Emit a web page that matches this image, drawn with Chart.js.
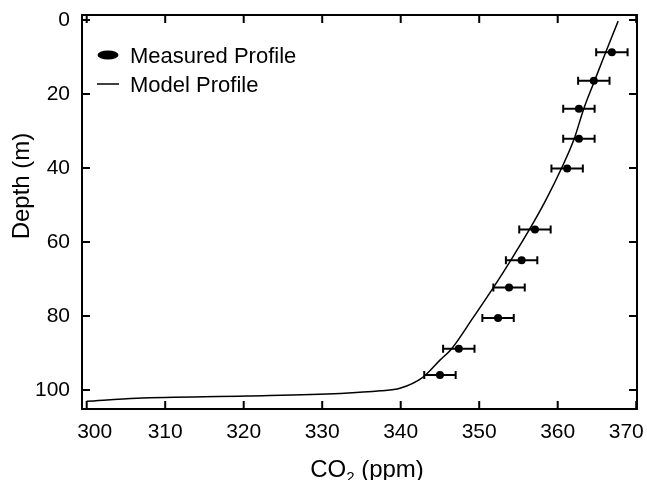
<!DOCTYPE html>
<html>
<head>
<meta charset="utf-8">
<script src="https://cdn.jsdelivr.net/npm/chart.js@4.4.1/dist/chart.umd.min.js"></script>
<style>
  body { margin: 0; background: #fff; }
  #wrap { width: 647px; height: 480px; }
</style>
</head>
<body>
<div id="wrap"><canvas id="myChart" width="647" height="480"></canvas></div>
<script>
// measured profile (CO2 ppm vs depth m)
var measuredCO2 = [366.9, 364.6, 362.7, 362.7, 361.2, 357.1, 355.4, 353.8, 352.4, 347.4, 345.0];
var measuredDepth = [8.7, 16.4, 24.0, 32.1, 40.1, 56.6, 64.9, 72.3, 80.5, 88.8, 95.9];
var measuredErr = [2, 2, 2, 2, 2, 2, 2, 2, 2, 2, 2];

// model profile
var modelCO2 = [367.7, 365.8, 364.7, 363.3, 362.1, 360.5, 358.5, 356.4, 354.0, 351.8, 349.2, 346.5, 345.0, 342.9, 339.9, 337.4, 332.3, 320.4, 306.4, 300.0];
var modelDepth = [0.3, 10.4, 16.4, 24.1, 32.1, 40.0, 48.6, 56.6, 65.0, 72.3, 80.5, 88.8, 91.9, 96.4, 99.5, 100.2, 100.9, 101.6, 102.2, 103.0];

// tick labels
var xTicks = [300, 310, 320, 330, 340, 350, 360, 370];
var yTicks = [0, 20, 40, 60, 80, 100];

var FONT = "'Liberation Sans', Arial, Helvetica, sans-serif";

function toPoints(xs, ys) {
  var pts = [];
  for (var i = 0; i < xs.length; i++) pts.push({ x: xs[i], y: ys[i] });
  return pts;
}

// frame, inward ticks, error bars, legend, axis titles
var decor = {
  id: "decor",
  beforeDatasetsDraw: function (chart) {
    var ctx = chart.ctx;
    var xs = chart.scales.x, ys = chart.scales.y;
    ctx.save();
    ctx.strokeStyle = "#000";
    ctx.lineWidth = 2;
    for (var i = 0; i < measuredCO2.length; i++) {
      var x0 = xs.getPixelForValue(measuredCO2[i] - measuredErr[i]);
      var x1 = xs.getPixelForValue(measuredCO2[i] + measuredErr[i]);
      var y = ys.getPixelForValue(measuredDepth[i]);
      ctx.beginPath();
      ctx.moveTo(x0, y); ctx.lineTo(x1, y);
      ctx.moveTo(x0, y - 4); ctx.lineTo(x0, y + 4);
      ctx.moveTo(x1, y - 4); ctx.lineTo(x1, y + 4);
      ctx.stroke();
    }
    ctx.restore();
  },
  afterDraw: function (chart) {
    var ctx = chart.ctx;
    var a = chart.chartArea;
    var xs = chart.scales.x, ys = chart.scales.y;
    ctx.save();
    ctx.strokeStyle = "#000";
    ctx.lineWidth = 2;
    ctx.strokeRect(a.left, a.top, a.right - a.left, a.bottom - a.top);
    ctx.beginPath();
    xTicks.forEach(function (v) {
      var px = xs.getPixelForValue(v);
      ctx.moveTo(px, a.bottom); ctx.lineTo(px, a.bottom - 8);
      ctx.moveTo(px, a.top); ctx.lineTo(px, a.top + 8);
    });
    yTicks.forEach(function (v) {
      var py = ys.getPixelForValue(v);
      ctx.moveTo(a.left, py); ctx.lineTo(a.left + 8, py);
      ctx.moveTo(a.right, py); ctx.lineTo(a.right - 8, py);
    });
    ctx.stroke();

    // x tick labels (end labels nudged inward as in the original)
    ctx.fillStyle = "#000";
    ctx.font = "21px " + FONT;
    ctx.textAlign = "center";
    ctx.textBaseline = "middle";
    xTicks.forEach(function (v, i) {
      var px = xs.getPixelForValue(v);
      if (i === 0) px += 8;
      if (i === xTicks.length - 1) px -= 10;
      ctx.fillText(String(v), px, 432);
    });

    // legend
    ctx.beginPath();
    ctx.ellipse(108, 55, 10.5, 4.5, 0, 0, Math.PI * 2);
    ctx.fill();
    ctx.lineWidth = 1.5;
    ctx.beginPath();
    ctx.moveTo(97, 84); ctx.lineTo(119, 84);
    ctx.stroke();
    ctx.font = "22px " + FONT;
    ctx.textAlign = "left";
    ctx.textBaseline = "alphabetic";
    ctx.fillText(chart.data.datasets[1].label, 130, 63);
    ctx.fillText(chart.data.datasets[0].label, 130, 92);

    // x title: CO2 (ppm)
    ctx.font = "24px " + FONT;
    var w1 = ctx.measureText("CO").width;
    var w3 = ctx.measureText(" (ppm)").width;
    ctx.font = "15px " + FONT;
    var w2 = ctx.measureText("2").width;
    var x = 367 - (w1 + w2 + w3) / 2;
    ctx.font = "24px " + FONT;
    ctx.fillText("CO", x, 477);
    ctx.font = "15px " + FONT;
    ctx.fillText("2", x + w1, 482);
    ctx.font = "24px " + FONT;
    ctx.fillText(" (ppm)", x + w1 + w2, 477);

    // y title
    ctx.translate(28.5, 186);
    ctx.rotate(-Math.PI / 2);
    ctx.textAlign = "center";
    ctx.fillText("Depth (m)", 0, 0);
    ctx.restore();
  }
};

var ctx = document.getElementById("myChart").getContext("2d");
var myChart = new Chart(ctx, {
  type: "scatter",
  data: {
    datasets: [
      {
        label: "Model Profile",
        data: toPoints(modelCO2, modelDepth),
        showLine: true,
        borderColor: "#000",
        borderWidth: 1.5,
        pointRadius: 0,
        cubicInterpolationMode: "monotone",
      },
      {
        label: "Measured Profile",
        data: toPoints(measuredCO2, measuredDepth),
        backgroundColor: "#000",
        borderColor: "#000",
        pointRadius: 4,
        borderWidth: 0,
      },
    ],
  },
  options: {
    responsive: false,
    animation: false,
    devicePixelRatio: 1,
    layout: { padding: { left: 0, top: 15, right: 10, bottom: 0 } },
    plugins: { legend: { display: false }, tooltip: { enabled: false } },
    scales: {
      x: {
        type: "linear",
        min: 299.4,
        max: 370.1,
        grid: { display: false, drawTicks: false },
        border: { display: false },
        afterBuildTicks: function (s) { s.ticks = xTicks.map(function (v) { return { value: v }; }); },
        afterFit: function (s) { s.height = 71; s.paddingLeft = 0; s.paddingRight = 0; },
        ticks: { display: false },
      },
      y: {
        type: "linear",
        reverse: true,
        min: -1.35,
        max: 105.1,
        grid: { display: false, drawTicks: false },
        border: { display: false },
        afterBuildTicks: function (s) { s.ticks = yTicks.map(function (v) { return { value: v }; }); },
        afterFit: function (s) { s.width = 82; s.paddingTop = 0; s.paddingBottom = 0; },
        ticks: { color: "#000", padding: 12, autoSkip: false, font: { size: 21, family: FONT } },
      },
    },
  },
  plugins: [decor],
});
</script>
</body>
</html>
